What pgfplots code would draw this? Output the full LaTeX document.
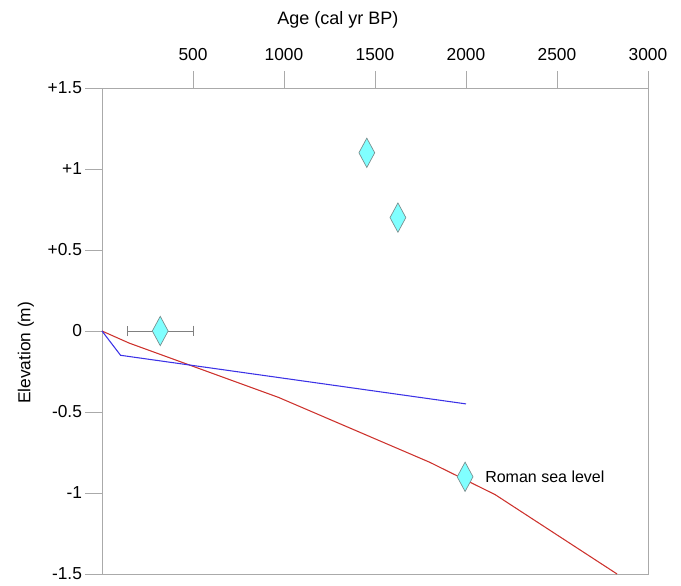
\documentclass[border=0pt]{standalone}
\usepackage{pgfplots}
\pgfplotsset{compat=1.18}
\usepackage{fontspec}
\setmainfont{Liberation Sans}
\definecolor{axgray}{RGB}{170,170,170}
\definecolor{dcyan}{RGB}{128,255,255}
\definecolor{dedge}{RGB}{120,140,140}
\definecolor{lblue}{RGB}{60,50,230}
\definecolor{lred}{RGB}{205,50,45}
\begin{document}
\begin{tikzpicture}
\useasboundingbox (-76.5pt,-8.25pt) rectangle (434.25pt,430.5pt);
\begin{axis}[
  at={(0,0)}, anchor=south west,
  scale only axis,
  width=409.5pt, height=364.5pt,
  xmin=0, xmax=3000,
  ymin=-1.5, ymax=1.5,
  axis line style={axgray},
  every tick/.style={axgray, line width=0.6pt},
  tick align=outside,
  xtick pos=upper, ytick pos=left,
  xticklabel pos=upper,
  major tick length=12.5pt,
  xtick={500,1000,1500,2000,2500,3000},
  xticklabels={500,1000,1500,2000,2500,3000},
  ytick={-1.5,-1,-0.5,0,0.5,1,1.5},
  yticklabels={-1.5,-1,-0.5,0,+0.5,+1,+1.5},
  tick label style={font=\fontsize{13}{15}\selectfont},
  xticklabel style={yshift=4.5pt},
  yticklabel style={xshift=1pt},
  xlabel={Age (cal yr BP)},
  xlabel style={at={(axis description cs:0.432,1)}, anchor=south, yshift=41.5pt, font=\fontsize{13.5}{15}\selectfont},
  ylabel={Elevation (m)},
  ylabel style={at={(axis description cs:-0.116,0.455)}, anchor=south, font=\fontsize{13}{15}\selectfont},
  clip=false,
]
% relative sea-level curves
\addplot[lred, line width=0.8pt] coordinates {(0,0) (150,-0.075) (970,-0.41) (1800,-0.81) (2160,-1.01) (2830,-1.5)};
\addplot[lblue, line width=0.8pt] coordinates {(0,0) (102,-0.15) (2000,-0.45)};
% dated samples
\addplot[only marks, mark=diamond*, mark size=11pt,
  mark options={fill=dcyan, draw=dedge, line width=0.5pt, xscale=0.72},
  error bars/.cd, x dir=both, x explicit,
  error bar style={gray, line width=0.7pt},
  error mark options={rotate=90, mark size=4pt, gray, line width=0.7pt}]
  coordinates {(320,0) +- (180,0)};
\addplot[only marks, mark=diamond*, mark size=11pt,
  mark options={fill=dcyan, draw=dedge, line width=0.5pt, xscale=0.72}]
  coordinates {(1455,1.1) (1626,0.7) (1995,-0.9)};
\node[anchor=west, font=\fontsize{12}{14}\selectfont] at (axis cs:2080,-0.9) {Roman sea level};
\end{axis}
\end{tikzpicture}
\end{document}
